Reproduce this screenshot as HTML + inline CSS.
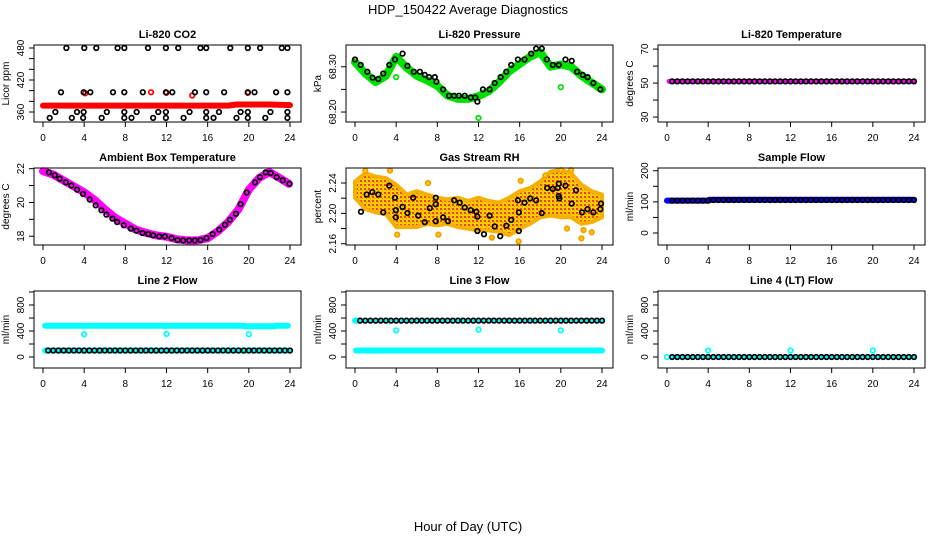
<!DOCTYPE html>
<html><head><meta charset="utf-8"><style>
html,body{margin:0;padding:0;background:#fff;}
svg{display:block;font-family:"Liberation Sans",sans-serif;}
</style></head><body>
<svg id="chart" width="936" height="540" viewBox="0 0 936 540" xmlns="http://www.w3.org/2000/svg">
<defs>
<pattern id="rhfill" width="4" height="4" patternUnits="userSpaceOnUse">
<rect width="4" height="4" fill="#ffd000"/><rect x="0" y="0" width="2" height="2" fill="#f04000"/><rect x="2" y="2" width="1" height="1" fill="#f08000"/>
</pattern>
</defs>
<text x="468" y="14" text-anchor="middle" font-size="13">HDP_150422  Average Diagnostics</text>
<text x="468" y="531" text-anchor="middle" font-size="13">Hour of Day (UTC)</text>
</svg>
<script>
// ---------- data ----------
const xTicks = [0,4,8,12,16,20,24];
const H = [0.5,1,1.5,2,2.5,3,3.5,4,4.5,5,5.5,6,6.5,7,7.5,8,8.5,9,9.5,10,10.5,11,11.5,12,12.5,13,13.5,14,14.5,15,15.5,16,16.5,17,17.5,18,18.5,19,19.5,20,20.5,21,21.5,22,22.5,23,23.5,24];
// CO2
const co2BlackHours = [2.27,4.01,5.18,7.25,7.9,10.2,11.94,13.14,15.3,15.86,18.2,19.9,21.1,23.2,23.75, 1.75,3.95,4.6,6.8,7.9,9.7,11.94,12.56,14.76,15.86,17.6,19.9,20.55,22.65,23.75, 1.2,3.3,3.95,6.2,7.9,9.1,11.2,11.94,14.24,15.86,17.1,19.2,19.9,22.1,23.75, 0.65,2.8,3.9,5.7,7.9,8.6,10.7,11.94,13.66,15.86,16.57,18.8,19.9,21.6,23.75];
const co2BlackVals = [480,480,480,480,480,480,480,480,480,480,480,480,480,480,480, 397,397,397,397,397,397,397,397,397,397,397,397,397,397,397, 360,360,360,360,360,360,360,360,360,360,360,360,360,360,360, 349,349,349,349,349,349,349,349,349,349,349,349,349,349,349];
const co2RedHours = [0,2,4,6,8,10,12,14,16,18,18.8,20,22,24];
const co2RedVals = [372,372,372,372,372,372,372,372,372,372,374,374,374,373];
const co2RedOutHours = [4.1,10.5,12.0,14.5,19.9];
const co2RedOutVals = [395,397,396,391,396];
// Pressure
const presBlackHours = [0,0.55,1.2,1.71,2.26,2.75,3.33,3.88,4.62,5.1,5.72,6.3,6.78,7.2,7.75,7.91,8.56,9.14,9.63,10.1,10.66,11.24,11.69,11.89,12.43,13.08,13.57,14.15,14.7,15.18,15.83,16.47,17.12,17.6,18.15,18.64,19.22,19.8,20.45,21.06,21.58,22.13,22.6,23.16,23.84];
const presBlackVals = [68.316,68.304,68.289,68.276,68.273,68.285,68.304,68.316,68.329,68.302,68.289,68.289,68.282,68.277,68.277,68.267,68.250,68.236,68.236,68.236,68.236,68.232,68.232,68.223,68.250,68.250,68.264,68.277,68.289,68.304,68.316,68.316,68.329,68.340,68.340,68.316,68.304,68.304,68.316,68.313,68.289,68.282,68.277,68.264,68.250];
const presGreenHours = [0,1,2,3,4,5,6,7,8,9,10,11,12,13,14,15,16,17,18,19,20,21,22,23,24];
const presGreenVals = [68.31,68.285,68.266,68.28,68.322,68.298,68.280,68.270,68.258,68.236,68.229,68.229,68.235,68.246,68.266,68.290,68.306,68.322,68.332,68.300,68.305,68.300,68.280,68.265,68.250];
const presGreenOutHours = [4.0,12.0,20.0];
const presGreenOutVals = [68.277,68.187,68.255];
// Li-820 temperature
const tempVals = [51,51,51,51,51,51,51,51,51,51,51,51,51,51,51,51,51,51,51,51,51,51,51,51,51,51,51,51,51,51,51,51,51,51,51,51,51,51,51,51,51,51,51,51,51,51,51,51];
const tempMagHours = [0.2,24];
const tempMagVals = [51,51];
// Ambient
const ambBlackHours = [0.58,1.14,1.62,2.21,2.76,3.31,3.89,4.54,5.12,5.68,6.16,6.75,7.2,7.85,8.53,9.08,9.67,10.22,10.7,11.29,11.84,12.49,13.07,13.62,14.21,14.76,15.31,15.89,16.48,17.13,17.68,18.16,18.75,19.2,19.79,20.6,21.08,21.63,22.12,22.7,23.29,23.94];
const ambBlackVals = [21.78,21.61,21.41,21.19,21.0,20.76,20.50,20.17,19.83,19.54,19.28,19.04,18.84,18.65,18.45,18.33,18.19,18.13,18.05,17.99,17.99,17.89,17.77,17.75,17.75,17.75,17.77,17.89,18.13,18.39,18.68,18.98,19.33,19.90,20.59,21.19,21.50,21.78,21.74,21.50,21.31,21.11];
const ambMagHours = [0,1,2,3,4,5,6,7,8,9,10,11,12,13,14,15,16,17,18,19,20,21,22,23,23.9];
const ambMagVals = [21.85,21.65,21.3,20.95,20.6,20.15,19.6,19.1,18.75,18.4,18.2,18.05,17.97,17.82,17.75,17.75,17.88,18.3,18.85,19.6,20.75,21.45,21.8,21.45,21.1];
// Gas stream RH
const rhHours = [0,1,2,3,4,5,6,7,8,9,10,11,12,13,14,15,16,17,18,19,20,21,22,23,24];
const rhUpper = [2.2422,2.2529,2.2486,2.2465,2.2378,2.2249,2.2292,2.2249,2.2206,2.2185,2.2206,2.2163,2.2206,2.2163,2.2142,2.2206,2.2292,2.2335,2.2422,2.2551,2.2572,2.2529,2.2378,2.2292,2.2249];
const rhLower = [2.2206,2.2056,2.2013,2.1991,2.1819,2.1819,2.1819,2.1862,2.1841,2.1862,2.1819,2.1798,2.1776,2.1776,2.1755,2.1712,2.1798,2.1862,2.1948,2.1970,2.1948,2.1948,2.1862,2.1884,2.1948];
const rhOutHours = [3.4,7.1,16.1,20.0,21.0,4.1,8.1,13.3,20.6,22.2,22.0,23.0,15.9,1.0,18.5];
const rhOutVals = [2.2565,2.2400,2.2430,2.2570,2.2570,2.1720,2.1720,2.1680,2.1800,2.1780,2.1670,2.1750,2.1630,2.2560,2.2500];
const rhBlackHours = [0.58,1.13,1.68,2.26,2.74,3.33,3.88,3.97,3.97,4.62,5.1,5.65,6.14,6.78,7.27,7.85,7.85,7.85,8.56,9.04,9.63,10.17,10.66,11.24,11.79,11.89,11.89,12.53,13.08,13.57,14.11,14.7,15.18,15.83,15.92,15.92,16.47,17.02,17.6,18.15,18.67,19.22,19.7,19.8,19.8,19.86,20.45,21.06,21.48,22.06,22.6,23.16,23.84,23.9];
const rhBlackVals = [2.2021,2.2249,2.2280,2.2249,2.2013,2.2366,2.2206,2.2043,2.1948,2.2086,2.2004,2.2206,2.1970,2.1884,2.2069,2.2206,2.2120,2.1897,2.1948,2.1897,2.2172,2.2142,2.2077,2.2043,2.2021,2.1957,2.1768,2.1725,2.1970,2.1828,2.1699,2.1837,2.1914,2.2172,2.2013,2.1768,2.2142,2.2198,2.2172,2.2004,2.2335,2.2323,2.2335,2.2391,2.2228,2.2198,2.2366,2.2129,2.2305,2.2013,2.2056,2.2013,2.2056,2.2129];
// Sample flow
const sampleVals = [104,104,104,104,104,104,104,104,106,106,106,106,106,106,106,106,106,106,106,106,106,106,106,106,106,106,106,106,106,106,106,106,106,106,106,106,106,106,106,106,106,106,106,106,106,106,106,106];
const sampleBlueHours = [0,4,4.1,24];
const sampleBlueVals = [104,104,107,107];
// Line 2 flow
const l2BlackVals = [100,100,100,100,100,100,100,100,100,100,100,100,100,100,100,100,100,100,100,100,100,100,100,100,100,100,100,100,100,100,100,100,100,100,100,100,100,100,100,100,100,100,100,100,100,100,100,100];
const l2CyanHours = [0.2,4,8,12,16,19.5,19.6,22.5,22.6,23.8];
const l2CyanVals = [480,482,482,482,482,482,472,472,482,482];
const l2CyanLowHours = [0.2,24];
const l2CyanLowVals = [100,100];
const l2OutHours = [4,12,20];
const l2OutVals = [350,355,350];
// Line 3 flow
const l3BlackVals = [560,560,560,560,560,560,560,560,560,560,560,560,560,560,560,560,560,560,560,560,560,560,560,560,560,560,560,560,560,560,560,560,560,560,560,560,560,560,560,560,560,560,560,560,560,560,560,560];
const l3CyanHours = [0.1,24];
const l3CyanVals = [100,100];
const l3CyanTopHours = [0,0.5];
const l3CyanTopVals = [560,560];
const l3OutHours = [4,12,20];
const l3OutVals = [410,420,410];
// Line 4 flow
const l4BlackVals = [0,0,0,0,0,0,0,0,0,0,0,0,0,0,0,0,0,0,0,0,0,0,0,0,0,0,0,0,0,0,0,0,0,0,0,0,0,0,0,0,0,0,0,0,0,0,0,0];
const l4OutHours = [0,4,12,20];
const l4OutVals = [0,100,100,100];

// ---------- drawing ----------
const svg = document.getElementById('chart');
const NS = 'http://www.w3.org/2000/svg';
const colL = [34,346,658], rowT = [45,168,291], BW = 267, BH = 77;
function mk(tag, attrs, parent){
  const e = document.createElementNS(NS, tag);
  for (const k in attrs) e.setAttribute(k, attrs[k]);
  (parent||svg).appendChild(e);
  return e;
}
function panel(ci, ri, key, title, ylab, ylim, ticks, labels){
  const L = colL[ci], T = rowT[ri], B = T+BH, R = L+BW;
  const g = mk('g', {});
  
  
  const x = h => L + 9 + h*(247/24);
  const y = v => B - (v - ylim[0])/(ylim[1]-ylim[0])*BH;
  const t = mk('text', {x:(L+R)/2, y:T-7, 'text-anchor':'middle', 'font-size':11, 'font-weight':'bold'}, g);
  t.textContent = title;
  
  
  const yl = mk('text', {x:L-25, y:(T+B)/2, 'text-anchor':'middle', 'font-size':10, transform:`rotate(-90 ${L-25} ${(T+B)/2})`}, g);
  yl.textContent = ylab;
  
  
  const xa = mk('g', {stroke:'#000','stroke-width':1}, g);
  
  
  xTicks.forEach(v => {
    mk('line', {x1:x(v), x2:x(v), y1:B, y2:B+5}, xa);
    const tl = mk('text', {x:x(v), y:B+19, 'text-anchor':'middle', 'font-size':10, stroke:'none'}, xa);
    tl.textContent = v;
    
    
  });
  const ya = mk('g', {stroke:'#000','stroke-width':1}, g);
  
  
  ticks.forEach(v => mk('line', {x1:L-5, x2:L, y1:y(v), y2:y(v)}, ya));
  labels.forEach(v => {
    const yy = y(v);
    const tl = mk('text', {x:L-10, y:yy, 'text-anchor':'middle', 'font-size':10, stroke:'none', transform:`rotate(-90 ${L-10} ${yy})`}, ya);
    tl.textContent = (typeof v === 'number' && ylim[1]-ylim[0] < 1) ? v.toFixed(2) : v;
    
    
  });
  const plot = mk('g', {}, g);
  
  
  return {x, y, plot, g, L, T, R, B, key};
}
function finish(p){
  const b = mk('rect', {x:p.L, y:p.T, width:BW, height:BH, fill:'none', stroke:'#000', 'stroke-width':1}, p.g);
  
  
}
function band(p, hs, vs, color, w, name){
  const pts = hs.map((h,i) => p.x(h).toFixed(1)+','+p.y(vs[i]).toFixed(1)).join(' ');
  const pl = mk('polyline', {points:pts, fill:'none', stroke:color, 'stroke-width':w, 'stroke-linejoin':'round', 'stroke-linecap':'round'}, p.plot);
  
  
}
function pts(p, hs, vs, color, name, inner){
  hs.forEach((h,i) => {
    const c = mk('circle', {cx:p.x(h), cy:p.y(vs[i]), r:2.3, fill: inner || 'none', stroke:color, 'stroke-width':1.7}, p.plot);
    
    
  });
}

let p = panel(0,0,'co2','Li-820 CO2','Licor ppm',[341.25,485.6],[360,380,400,420,440,460,480],[360,420,480]);
band(p, co2RedHours, co2RedVals, '#ff0000', 6, 'co2-red-band');
pts(p, co2RedOutHours, co2RedOutVals, '#ff0000', 'co2-red-point');
pts(p, co2BlackHours, co2BlackVals, '#000', 'co2-black-point');
finish(p);
p = panel(1,0,'pressure','Li-820 Pressure','kPa',[68.178,68.348],[68.20,68.25,68.30],[68.20,68.30]);
band(p, presGreenHours, presGreenVals, '#00e000', 8, 'pressure-green-band');
pts(p, presGreenOutHours, presGreenOutVals, '#00e000', 'pressure-green-point');
pts(p, presBlackHours, presBlackVals, '#000', 'pressure-black-point');
finish(p);
p = panel(2,0,'li820-temp','Li-820 Temperature','degrees C',[27.1,72.4],[30,40,50,60,70],[30,50,70]);
band(p, tempMagHours, tempMagVals, '#ff00ff', 5, 'temp-magenta-band');
pts(p, H, tempVals, '#000', 'temp-black-point', '#ff00ff');
finish(p);
p = panel(0,1,'ambient','Ambient Box Temperature','degrees C',[17.48,22.04],[18,19,20,21,22],[18,20,22]);
band(p, ambMagHours, ambMagVals, '#ff00ff', 8, 'ambient-magenta-band');
pts(p, ambBlackHours, ambBlackVals, '#000', 'ambient-black-point');
finish(p);
p = panel(1,1,'rh','Gas Stream RH','percent',[2.1583,2.2598],[2.16,2.18,2.20,2.22,2.24],[2.16,2.20,2.24]);
{
  const up = rhHours.map((h,i) => p.x(h).toFixed(1)+','+p.y(rhUpper[i]).toFixed(1));
  const lo = rhHours.map((h,i) => p.x(h).toFixed(1)+','+p.y(rhLower[i]).toFixed(1)).reverse();
  const poly = mk('polygon', {points: up.concat(lo).join(' '), fill:'url(#rhfill)', stroke:'#f5b000', 'stroke-width':4, 'stroke-linejoin':'round'}, p.plot);
  
  
}
pts(p, rhOutHours, rhOutVals, '#f0a000', 'rh-orange-point', '#ffd000');
pts(p, rhBlackHours, rhBlackVals, '#000', 'rh-black-point');
finish(p);
p = panel(2,1,'sample-flow','Sample Flow','ml/min',[-38.5,208.7],[0,50,100,150,200],[0,100,200]);
band(p, sampleBlueHours, sampleBlueVals, '#0000ff', 6, 'sample-blue-band');
pts(p, H, sampleVals, '#000', 'sample-black-point', '#0000ff');
finish(p);
p = panel(0,2,'line2','Line 2 Flow','ml/min',[-169,1015],[0,200,400,600,800,1000],[0,400,800]);
band(p, l2CyanHours, l2CyanVals, '#00ffff', 6, 'line2-cyan-band');
band(p, l2CyanLowHours, l2CyanLowVals, '#00ffff', 6, 'line2-cyan-low-band');
pts(p, l2OutHours, l2OutVals, '#00ffff', 'line2-cyan-point');
pts(p, H, l2BlackVals, '#000', 'line2-black-point', '#00ffff');
finish(p);
p = panel(1,2,'line3','Line 3 Flow','ml/min',[-169,1015],[0,200,400,600,800,1000],[0,400,800]);
band(p, l3CyanHours, l3CyanVals, '#00ffff', 6, 'line3-cyan-band');
band(p, l3CyanTopHours, l3CyanTopVals, '#00ffff', 6, 'line3-cyan-top-band');
pts(p, l3OutHours, l3OutVals, '#00ffff', 'line3-cyan-point');
pts(p, H, l3BlackVals, '#000', 'line3-black-point', '#00ffff');
finish(p);
p = panel(2,2,'line4','Line 4 (LT) Flow','ml/min',[-169,1015],[0,200,400,600,800,1000],[0,400,800]);
pts(p, l4OutHours, l4OutVals, '#00ffff', 'line4-cyan-point');
pts(p, H, l4BlackVals, '#000', 'line4-black-point', '#00ffff');
finish(p);
</script>
</body></html>
